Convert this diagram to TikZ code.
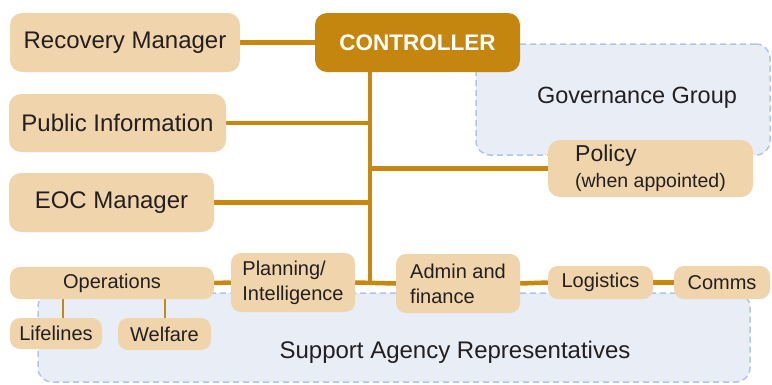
\documentclass[tikz,border=0pt]{standalone}
\usepackage{fontspec}
\setmainfont{Liberation Sans}
\pgfdeclarelayer{back}
\pgfdeclarelayer{mid}
\pgfsetlayers{back,mid,main}
\definecolor{peach}{HTML}{F0D4AB}
\definecolor{gold}{HTML}{C8880F}
\definecolor{ctrlfill}{HTML}{C4860F}
\definecolor{ink}{HTML}{231F20}
\definecolor{govfill}{HTML}{E8EDF6}
\definecolor{govline}{HTML}{B3C5E6}
\tikzset{
  box/.style={fill=peach, rounded corners=12pt, inner sep=0pt, text=ink, font=\fontsize{24}{28}\selectfont},
  smallbox/.style={box, rounded corners=10pt, font=\fontsize{20}{25}\selectfont},
  dashbox/.style={fill=govfill, draw=govline, dash pattern=on 6pt off 4pt, line width=1.5pt, rounded corners=14pt, inner sep=0pt},
  link/.style={draw=gold, line width=4.5pt},
  thinlink/.style={draw=gold, line width=2pt}
}
\begin{document}
\begin{tikzpicture}[x=1pt,y=-1pt]
\useasboundingbox (0,0) rectangle (772,384);
% dashed group boxes
\begin{pgfonlayer}{back}
\node[dashbox, minimum width=294pt, minimum height=111pt,
  label={[xshift=14pt,yshift=2pt,text=ink,font=\fontsize{23.5}{28}\selectfont]center:Governance Group}] (gov) at (623,99.5) {};
\node[dashbox, minimum width=712pt, minimum height=89pt,
  label={[xshift=61pt,yshift=-15pt,text=ink,font=\fontsize{24}{28}\selectfont]center:Support Agency Representatives}] (sup) at (394,337.5) {};
\end{pgfonlayer}
% boxes
\node[box, minimum width=230pt, minimum height=59pt] (rec) at (125,42.5) {Recovery Manager};
\node[box, fill=ctrlfill, text=white, minimum width=205pt, minimum height=59pt, font=\fontsize{22.5}{26}\selectfont\bfseries] (ctrl) at (417.5,42.5) {CONTROLLER};
\node[box, minimum width=217pt, minimum height=58pt] (pub) at (117.5,123) {Public Information};
\node[box, minimum width=205pt, minimum height=59pt] (eoc) at (111.5,202.5) {EOC Manager};
\node[box, minimum width=205pt, minimum height=57pt, align=left] (pol) at (650.5,168.5)
  {{\fontsize{23}{28}\selectfont Policy}\\[-2pt]{\fontsize{19.5}{24}\selectfont (when appointed)}};
\node[smallbox, minimum width=204pt, minimum height=32pt] (ops) at (112,283) {Operations};
\node[smallbox, minimum width=92pt, minimum height=31pt] (life) at (56,333.5) {Lifelines};
\node[smallbox, minimum width=93pt, minimum height=32pt] (welf) at (164.5,334) {Welfare};
\node[smallbox, minimum width=124pt, minimum height=59pt, align=left] (plan) at (293,282.5) {Planning/\\Intelligence};
\node[smallbox, minimum width=124pt, minimum height=59pt, align=left] (admin) at (458,283.5) {Admin and\\finance};
\node[smallbox, minimum width=105pt, minimum height=33pt] (log) at (600.5,282.5) {Logistics};
\node[smallbox, minimum width=96pt, minimum height=33pt] (comms) at (722,282.5) {Comms};
\coordinate (t) at (370,283);
% connectors
\begin{pgfonlayer}{mid}
\draw[link] (rec.east) -- (ctrl.west);
\draw[link] (ctrl.south -| t) -- (t);
\draw[link] (pub.east) -- (pub.east -| t);
\draw[link] (eoc.east) -- (eoc.east -| t);
\draw[link] (pol.west) -- (pol.west -| t);
\draw[link] (ops.east) -- (plan.west);
\draw[link] (plan.east) -- (admin.west);
\draw[link] (admin.east) -- (log.west);
\draw[link] (log.east) -- (comms.west);
\draw[thinlink] ([xshift=7pt]life.north) -- ([xshift=7pt]life.north |- ops.south);
\draw[thinlink] (welf.north) -- (welf.north |- ops.south);
\end{pgfonlayer}
\end{tikzpicture}
\end{document}
